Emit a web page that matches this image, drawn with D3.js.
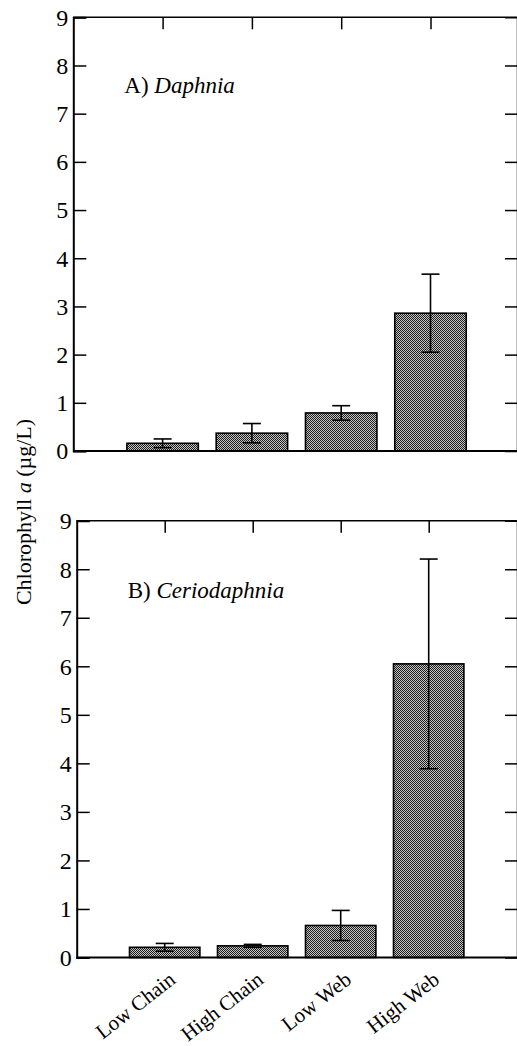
<!DOCTYPE html>
<html>
<head>
<meta charset="utf-8">
<script src="https://cdn.jsdelivr.net/npm/d3@7"></script>
<style>
body { margin: 0; background: #fff; }
svg { display: block; font-family: "Liberation Serif", "DejaVu Serif", serif; }
</style>
</head>
<body>
<svg width="517" height="1046"></svg>
<script>
var categories = ["Low Chain", "High Chain", "Low Web", "High Web"];
var yTicks = [0, 1, 2, 3, 4, 5, 6, 7, 8, 9];
// panel A: Daphnia
var daphniaMean = [0.16, 0.37, 0.79, 2.86];
var daphniaErr = [0.09, 0.20, 0.15, 0.81];
// panel B: Ceriodaphnia
var ceriodaphniaMean = [0.21, 0.24, 0.66, 6.05];
var ceriodaphniaErr = [0.08, 0.03, 0.31, 2.16];

var svg = d3.select("svg");

// stipple fill like the scanned bars
var pat = svg.append("defs").append("pattern")
  .attr("id", "stip").attr("width", 2).attr("height", 2)
  .attr("patternUnits", "userSpaceOnUse");
pat.append("rect").attr("width", 2).attr("height", 2).attr("fill", "#c4c4c4");
pat.append("rect").attr("width", 1).attr("height", 1).attr("fill", "#1e1e1e");
pat.append("rect").attr("x", 1).attr("y", 1).attr("width", 1).attr("height", 1).attr("fill", "#1e1e1e");

function panel(opt) {
  var x = d3.scalePoint().domain(categories).range([opt.left, opt.xEnd]).padding(1);
  var y = d3.scaleLinear().domain([0, 9]).range([opt.bottom, opt.top]);
  var bw = x.step() * 0.8;
  var g = svg.append("g");
  var rows = categories.map(function(c, i) { return {c: c, m: opt.mean[i], e: opt.err[i]}; });

  g.selectAll("rect.bar").data(rows).enter().append("rect")
    .attr("class", "bar")
    .attr("x", function(d) { return x(d.c) - bw / 2; })
    .attr("y", function(d) { return y(d.m); })
    .attr("width", bw)
    .attr("height", function(d) { return y(0) - y(d.m); })
    .attr("fill", "url(#stip)")
    .attr("stroke", "#000").attr("stroke-width", 1.6);

  var eb = g.selectAll("g.err").data(rows).enter().append("g").attr("class", "err")
    .attr("stroke", "#000").attr("stroke-width", 1.6);
  eb.append("line")
    .attr("x1", function(d) { return x(d.c); }).attr("x2", function(d) { return x(d.c); })
    .attr("y1", function(d) { return y(d.m - d.e); }).attr("y2", function(d) { return y(d.m + d.e); });
  eb.append("line")
    .attr("x1", function(d) { return x(d.c) - 9; }).attr("x2", function(d) { return x(d.c) + 9; })
    .attr("y1", function(d) { return y(d.m + d.e); }).attr("y2", function(d) { return y(d.m + d.e); });
  eb.append("line")
    .attr("x1", function(d) { return x(d.c) - 9; }).attr("x2", function(d) { return x(d.c) + 9; })
    .attr("y1", function(d) { return y(d.m - d.e); }).attr("y2", function(d) { return y(d.m - d.e); });

  // left axis, ticks inward
  var la = g.append("g").attr("transform", "translate(" + opt.left + ",0)")
    .call(d3.axisRight(y).tickValues(yTicks).tickSize(13).tickFormat(""));
  la.select(".domain").attr("stroke-width", 2);
  la.selectAll(".tick line").attr("stroke-width", 1.5);
  g.selectAll("text.yl").data(yTicks).enter().append("text")
    .attr("class", "yl")
    .attr("x", opt.left - 5).attr("y", function(d) { return y(d); })
    .attr("dy", "0.35em").attr("text-anchor", "end")
    .attr("font-size", 24).text(function(d) { return d; });

  // right axis, ticks inward
  var ra = g.append("g").attr("transform", "translate(" + opt.right + ",0)")
    .call(d3.axisLeft(y).tickValues(yTicks.slice(1, 9)).tickSize(12).tickFormat(""));
  ra.select(".domain").attr("stroke-width", 1.5);
  ra.selectAll(".tick line").attr("stroke-width", 1.5);

  // top axis, ticks inward at categories
  var ta = g.append("g").attr("transform", "translate(0," + opt.top + ")")
    .call(d3.axisBottom(x).tickSize(12).tickSizeOuter(0).tickFormat(""));
  ta.select(".domain").attr("d", "M" + opt.left + ",0H" + opt.right).attr("stroke-width", 1.6);
  ta.selectAll(".tick line").attr("stroke-width", 1.5);

  // bottom line
  g.append("line").attr("x1", opt.left).attr("x2", opt.right)
    .attr("y1", y(0)).attr("y2", y(0)).attr("stroke", "#000").attr("stroke-width", 1.8);

  var lab = g.append("text").attr("x", opt.left + 51).attr("y", opt.labelY).attr("font-size", 23);
  lab.append("tspan").text(opt.letter + " ");
  lab.append("tspan").attr("font-style", "italic").text(opt.name);

  return x;
}

panel({left: 73.3, xEnd: 519.8, right: 517, top: 17.3, bottom: 451,
  mean: daphniaMean, err: daphniaErr, letter: "A)", name: "Daphnia", labelY: 93});
var xb = panel({left: 76.7, xEnd: 516.7, right: 517, top: 520.7, bottom: 957.5,
  mean: ceriodaphniaMean, err: ceriodaphniaErr, letter: "B)", name: "Ceriodaphnia", labelY: 598});

svg.selectAll("text.xl").data(categories).enter().append("text")
  .attr("class", "xl")
  .attr("transform", function(d) { return "translate(" + (xb(d) + 12) + ",982) rotate(-38)"; })
  .attr("text-anchor", "end").attr("font-size", 21)
  .text(function(d) { return d; });

var yl = svg.append("text")
  .attr("transform", "translate(31,512) rotate(-90)")
  .attr("text-anchor", "middle").attr("font-size", 22);
yl.append("tspan").text("Chlorophyll ");
yl.append("tspan").attr("font-style", "italic").text("a");
yl.append("tspan").text(" (\u00b5g/L)");
</script>
</body>
</html>
